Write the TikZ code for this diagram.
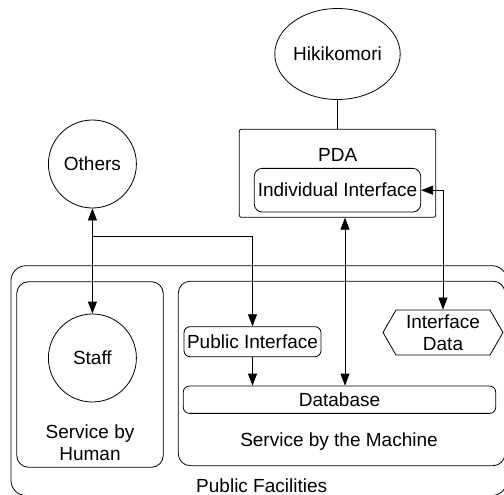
\documentclass[tikz,border=0pt]{standalone}
\usepackage{fontspec}
\setmainfont{Liberation Sans}
\usetikzlibrary{shapes.geometric,shapes.symbols,arrows.meta}

\begin{document}
\begin{tikzpicture}[x=1pt,y=-1pt,line width=0.8pt,
	every node/.style={font=\fontsize{19}{21.5}\selectfont},
	>={Triangle[length=12pt,width=9pt]},
	actor/.style={draw,circle,minimum size=88pt,inner sep=0pt},
	box/.style={draw,rounded corners=6pt,inner sep=0pt},
	area/.style={draw,rounded corners=12pt}]
	\clip (0,0) rectangle (504,495);

	% public facilities with the two service areas
	\draw[rounded corners=15pt] (11,265.7) rectangle (507,495.5);
	\draw[area] (16.7,281.7) rectangle (163.3,467.3);
	\draw[area] (178.3,281.2) rectangle (505,465.7);
	\path (261.7,485.8) node {Public Facilities};
	\path (339,441.7) node {Service by the Machine};
	\path (90,442.5) node[align=center] {Service by\\Human};

	% people
	\node[actor] (others) at (92.4,164) {Others};
	\node[actor] (staff) at (92.4,358) {Staff};
	\node[draw,ellipse,minimum width=106pt,minimum height=91pt,inner sep=0pt] (hiki) at (337.5,54) {Hikikomori};

	% PDA
	\node[draw,rounded corners=2pt,minimum width=196.4pt,minimum height=88pt] (pda) at (337.5,173.3) {};
	\path (337.7,155) node {PDA};
	\node[box,rounded corners=8pt,minimum width=166.4pt,minimum height=43.7pt] (indiv) at (337.5,190.2) {Individual Interface};

	% machine side
	\node[box,minimum width=137pt,minimum height=30pt] (pubif) at (252.5,341.7) {Public Interface};
	\node[box,minimum width=312.4pt,minimum height=27.3pt] (db) at (339.5,399.7) {Database};
	\node[draw,signal,signal to=west and east,signal pointer angle=120,minimum width=120pt,minimum height=45pt,inner sep=0pt,align=center] (ifdata) at (443,332.5) {Interface\\Data};

	% connections
	\coordinate (split) at (92.4,236.7);
	\draw[<->] (others) -- (staff);
	\draw[->] (split) -| (pubif);
	\draw[->] (pubif) -- (pubif |- db.north);
	\draw[<->] ([xshift=5.5pt]db.north) -- ([xshift=5.5pt]db.north |- pda.south);
	\draw[<->] (indiv) -| (ifdata);
	\draw (hiki) -- (pda);
\end{tikzpicture}
\end{document}
